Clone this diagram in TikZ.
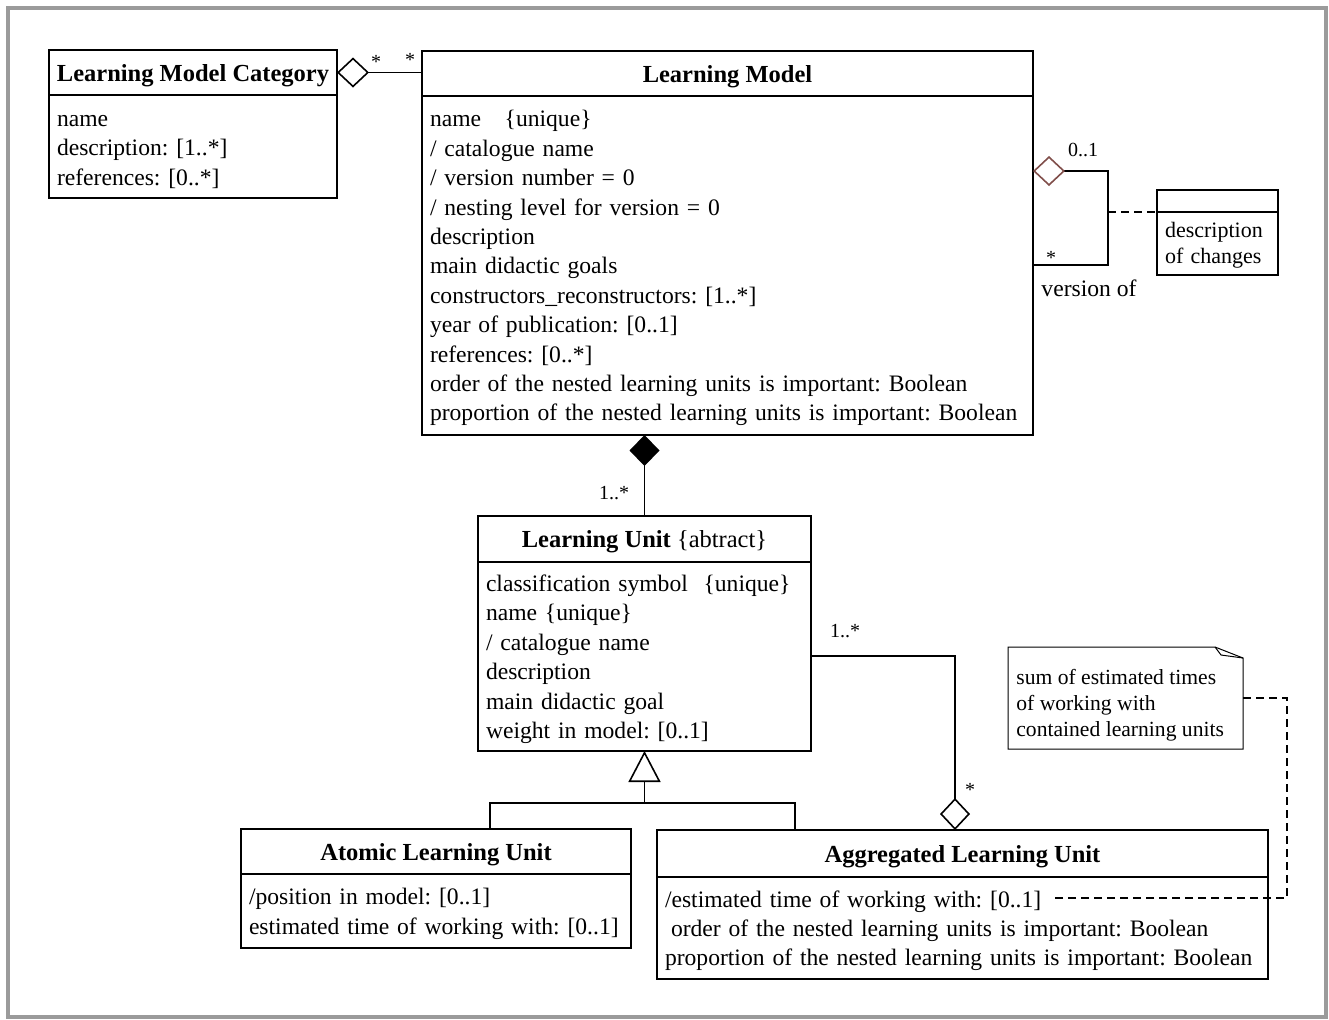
\documentclass[tikz,border=0pt]{standalone}
\usepackage{fontspec}
\setmainfont{Liberation Serif}
\usetikzlibrary{arrows.meta}
\usetikzlibrary{positioning}
\usetikzlibrary{calc}
\definecolor{framegray}{RGB}{155,155,155}
\definecolor{verbrown}{RGB}{128,78,74}
\frenchspacing

\begin{document}
\begin{tikzpicture}[x=0.5pt,y=-0.5pt,
    cname/.style={draw,line width=0.9pt,inner sep=0pt,outer sep=0pt,anchor=north west,text depth=0pt,font=\fontsize{12.25}{14.7}\selectfont\bfseries},
    cattr/.style={draw,line width=0.9pt,inner xsep=4pt,inner ysep=0pt,outer sep=0pt,align=left,text height=11pt,font=\fontsize{11.8}{14.7}\selectfont},
    mult/.style={font=\fontsize{10}{12}\selectfont,inner sep=1pt},
    link/.style={line width=0.8pt},
    dashlink/.style={line width=1.4pt,dash pattern=on 4pt off 2.5pt}]

\useasboundingbox (0,0) rectangle (1329,1019);
\draw[framegray,line width=2pt] (8,8) rectangle (1326,1017);

% classes
\node[cname,minimum width=144pt,minimum height=22.5pt] (lmc-h) at (49,50) {Learning Model Category};
\node[cattr,below=0pt of lmc-h,text width=136pt,minimum height=51.5pt] (lmc-b)
{name\\
description: [1..*]\\
references: [0..*]};

\node[cname,minimum width=305.5pt,minimum height=22.5pt] (lm-h) at (422,51) {Learning Model};
\node[cattr,below=0pt of lm-h,text width=297.5pt,minimum height=169.5pt] (lm-b)
{name\ \ \ \{unique\}\\
/ catalogue name\\
/ version number = 0\\
/ nesting level for version = 0\\
description\\
main didactic goals\\
constructors\_reconstructors: [1..*]\\
year of publication: [0..1]\\
references: [0..*]\\
order of the nested learning units is important: Boolean\\
proportion of the nested learning units is important: Boolean};

\node[cname,minimum width=60.5pt,minimum height=11pt] (doc-h) at (1157,190) {};
\node[cattr,below=0pt of doc-h,text width=52.5pt,minimum height=31.5pt,text height=9.5pt,font=\fontsize{11}{13}\selectfont] (doc-b)
{description\\
of changes};

\node[cname,minimum width=166.5pt,minimum height=23pt] (lu-h) at (478,516) {Learning Unit\ {\normalfont\{abtract\}}};
\node[cattr,below=0pt of lu-h,text width=158.5pt,minimum height=94.5pt] (lu-b)
{classification symbol\ \ \{unique\}\\
name \{unique\}\\
/ catalogue name\\
description\\
main didactic goal\\
weight in model: [0..1]};

\node[cname,minimum width=195pt,minimum height=22.5pt] (alu-h) at (241,829) {Atomic Learning Unit};
\node[cattr,below=0pt of alu-h,text width=187pt,minimum height=37pt] (alu-b)
{/position in model: [0..1]\\
estimated time of working with: [0..1]};

\node[cname,minimum width=305.5pt,minimum height=23.5pt] (aglu-h) at (657,830) {Aggregated Learning Unit};
\node[cattr,below=0pt of aglu-h,text width=297.5pt,minimum height=51pt] (aglu-b)
{/estimated time of working with: [0..1]\\
\hspace{3pt}order of the nested learning units is important: Boolean\\
proportion of the nested learning units is important: Boolean};

% note
\node[anchor=north west,inner sep=0pt,outer sep=0pt,minimum width=117.5pt,minimum height=51pt] (note) at (1008,647) {};
\draw[line width=0.5pt] (note.north west) -- ($(note.north east)+(-28,0)$) -- ($(note.north east)+(0,11)$) -- (note.south east) -- (note.south west) -- cycle;
\draw[line width=0.5pt] ($(note.north east)+(-28,0)$) -- ++(6,8) -- ($(note.north east)+(0,11)$);
\node[anchor=north west,inner xsep=4pt,inner ysep=0pt,align=left,font=\fontsize{10.8}{13}\selectfont] (notetext) at ($(note.north west)+(0,22)$)
{sum of estimated times\\
of working with\\
contained learning units};

% category -- model
\draw[link,{Diamond[open,length=16pt,width=15pt]}-] (lmc-h.east) -- (lmc-h.east -| lm-h.west);
\node[mult] (m-lmc) at (376,62) {*};
\node[mult] (m-lm) at (410,60) {*};

% version of
\coordinate (ver1) at (1108,171);
\coordinate (ver2) at (1108,265);
\draw[link,{Diamond[open,length=16pt,width=15pt,color=verbrown]}-] (lm-b.east |- ver1) -- (ver1) -- (ver2) -- (lm-b.east |- ver2);
\draw[dashlink] (ver1 |- doc-h.south) -- (doc-h.south west);
\node[mult] (m-v1) at (1083,150) {0..1};
\node[mult] (m-v2) at (1051,258) {*};
\node[font=\fontsize{11.8}{14.7}\selectfont,inner sep=1pt] (verlbl) at (1089,288) {version of};

% model -- unit
\draw[link,-{Diamond[length=15.5pt,width=15pt]}] (lu-h.north) -- (lu-h.north |- lm-b.south);
\node[mult] (m-lu) at (614,493) {1..*};

% generalisation
\coordinate (gen) at (lu-b.south |- 0,803);
\coordinate (genL) at (490,803);
\coordinate (genR) at (795,803);
\draw[link,-{Triangle[open,length=15.5pt,width=16pt]}] (gen) -- (lu-b.south);
\draw[link] (alu-h.north -| genL) -- (genL) -- (genR) -- (aglu-h.north -| genR);

% unit -- aggregated unit
\coordinate (aggc) at (955,656);
\draw[link,-{Diamond[open,length=16pt,width=15pt]}] (lu-b.east |- aggc) -- (aggc) -- (aglu-h.north -| aggc);
\node[mult] (m-agg1) at (845,631) {1..*};
\node[mult] (m-agg2) at (970,790) {*};

% note link
\coordinate (tEnd) at (1053,898);
\coordinate (dR) at (1287,898);
\draw[dashlink] (note.east) -- (note.east -| dR) -- (dR) -- (tEnd);
\end{tikzpicture}
\end{document}
